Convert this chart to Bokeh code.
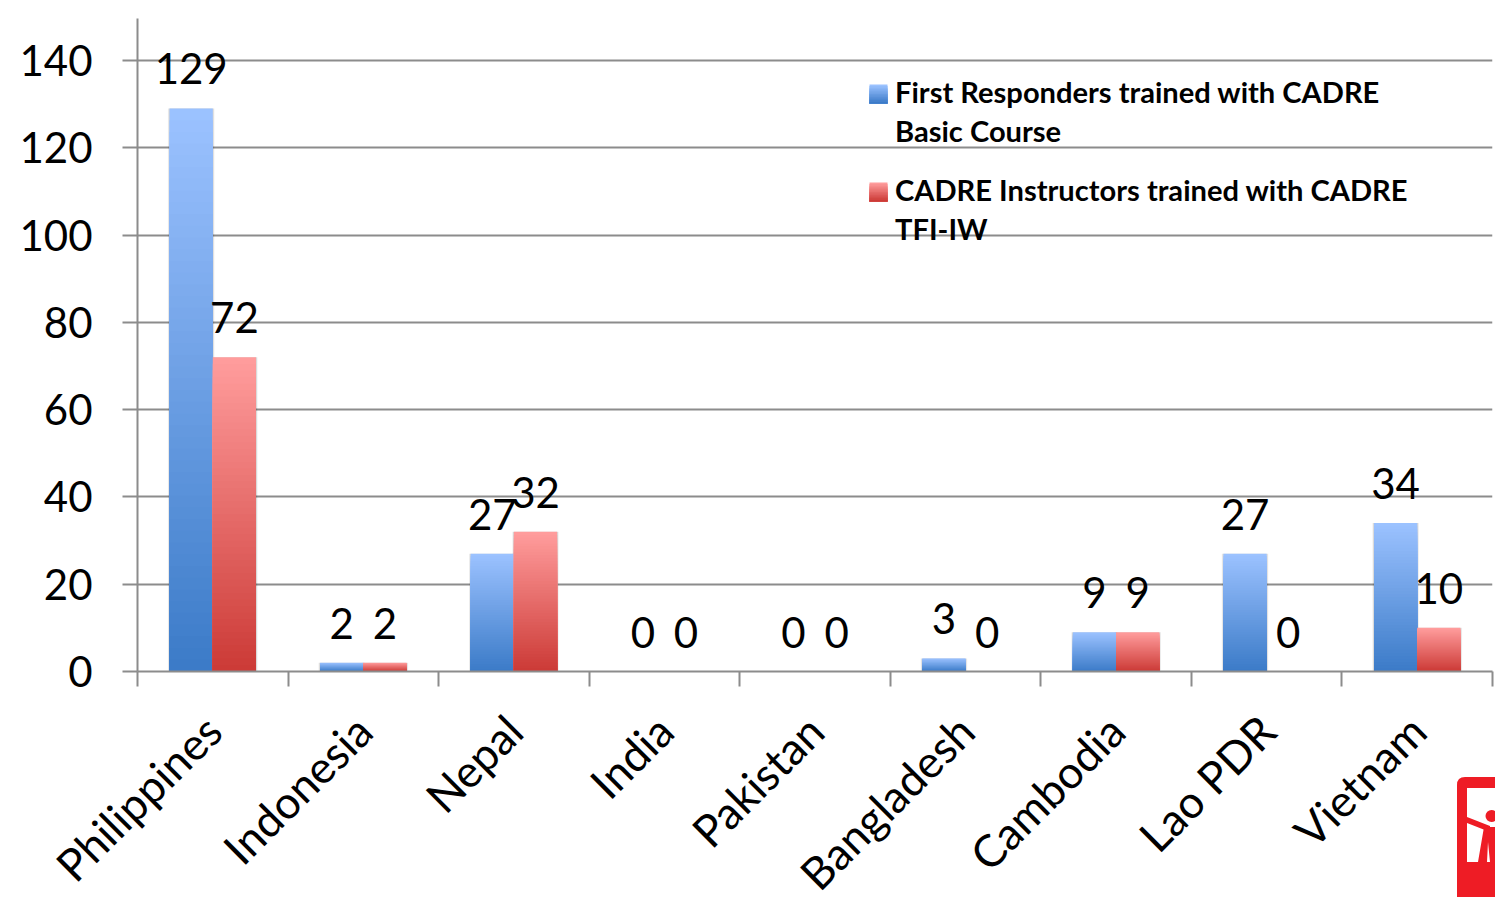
from bokeh.plotting import figure
from bokeh.embed import file_html
from bokeh.resources import INLINE
from bokeh.core.properties import value
from bokeh.models import (ColumnDataSource, Range1d, FixedTicker, Label, BoxAnnotation,
                          LinearAxis, Grid)
import math

categories = ["Philippines", "Indonesia", "Nepal", "India", "Pakistan", "Bangladesh", "Cambodia", "Lao PDR", "Vietnam"]
first_responders = [129, 2, 27, 0, 0, 3, 9, 27, 34]
instructors = [72, 2, 32, 0, 0, 0, 9, 0, 10]
y_ticks = [0, 20, 40, 60, 80, 100, 120, 140]
legend_first = ["First Responders trained with CADRE", "Basic Course"]
legend_second = ["CADRE Instructors trained with CADRE", "TFI-IW"]

BLUE = ((155, 194, 255), (60, 123, 200))
RED = ((255, 156, 156), (204, 59, 55))
FONT = "Lato"
GRID = "#8c8c8c"
BANDS = 48
FRAME_LEFT = 138
FRAME_BOTTOM = 670


def mix(pair, t):
    a, b = pair
    return "#%02x%02x%02x" % tuple(round(a[i] + (b[i] - a[i]) * t) for i in range(3))


def sx(px):
    return px - FRAME_LEFT


def sy(py):
    return FRAME_BOTTOM - py


p = figure(width=1495, height=897, output_backend="svg", toolbar_location=None,
           x_range=Range1d(0, 9), y_range=Range1d(0, 149.6),
           min_border_left=137, min_border_right=3, min_border_top=18, min_border_bottom=226,
           x_axis_type=None, y_axis_type=None, outline_line_color=None, background_fill_color="white")
p.frame_width = 1355
p.frame_height = 653

centres = [i + 0.5 for i in range(len(categories))]
xaxis = LinearAxis(ticker=FixedTicker(ticks=centres, minor_ticks=list(range(len(categories) + 1))),
                   major_label_overrides={c: n for c, n in zip(centres, categories)})
xaxis.major_tick_line_color = None
xaxis.minor_tick_in = 0
xaxis.minor_tick_out = 15
xaxis.minor_tick_line_color = GRID
xaxis.minor_tick_line_width = 2
xaxis.axis_line_color = GRID
xaxis.axis_line_width = 2
xaxis.major_label_orientation = math.pi / 4
xaxis.major_label_standoff = 36
xaxis.major_label_text_font = FONT
xaxis.major_label_text_font_size = "44.5px"
xaxis.major_label_text_color = "black"
p.add_layout(xaxis, "below")

yaxis = LinearAxis(ticker=FixedTicker(ticks=y_ticks))
yaxis.major_tick_in = 0
yaxis.major_tick_out = 15
yaxis.major_tick_line_color = GRID
yaxis.major_tick_line_width = 2
yaxis.minor_tick_line_color = None
yaxis.axis_line_color = GRID
yaxis.axis_line_width = 2
yaxis.major_label_standoff = 30
yaxis.major_label_text_font = FONT
yaxis.major_label_text_font_size = "42px"
yaxis.major_label_text_color = "black"
p.add_layout(yaxis, "left")

p.add_layout(Grid(dimension=1, ticker=FixedTicker(ticks=y_ticks), grid_line_color=GRID, grid_line_width=2))

BAR = 0.287
series = [(first_responders, -BAR / 2, BLUE), (instructors, BAR / 2, RED)]

# soft shadow round the bars
for vals, shift, _ in series:
    xs = [c + shift for c in centres]
    for extra, alpha in ((0.022, 0.06), (0.012, 0.10)):
        p.vbar(x=[x for x, v in zip(xs, vals) if v > 0], top=[v for v in vals if v > 0], bottom=0,
               width=BAR + extra, fill_color="black", fill_alpha=alpha, line_color=None)

# vertical gradient: nested bars painted from the tallest band to the shortest
for vals, shift, pair in series:
    xs = [c + shift for c in centres]
    for k in range(BANDS):
        f = 1 - k / BANDS
        p.vbar(x=xs, top=[v * f for v in vals], bottom=0, width=BAR, line_color=None,
               fill_color=mix(pair, k / (BANDS - 1)))

for vals, shift, _ in series:
    src = ColumnDataSource(dict(x=[c + shift for c in centres], y=vals, t=[str(v) for v in vals]))
    p.text(x="x", y="y", text="t", source=src, text_align="center", text_baseline="alphabetic",
           y_offset=-39.5, text_font=value(FONT), text_font_size="42px", text_color="black")


def box(l, r, t, b, color):
    p.add_layout(BoxAnnotation(left=sx(l), right=sx(r), top=sy(t), bottom=sy(b),
                               left_units="screen", right_units="screen",
                               top_units="screen", bottom_units="screen", fill_color=color, fill_alpha=1,
                               line_color=None, level="overlay"))


# legend
for lines, top, pair in ((legend_first, 83, BLUE), (legend_second, 181, RED)):
    steps = 12
    for k in range(steps):
        box(870, 888, top + 19 * k / steps, top + 19, mix(pair, k / (steps - 1)))
    for i, line in enumerate(lines):
        p.add_layout(Label(x=sx(895.5), y=sy(top + 7 + 39 * i), x_units="screen", y_units="screen",
                           text=line, text_font=FONT, text_font_style="bold",
                           text_font_size="29.1px", text_color="black", text_baseline="middle"))

# logo in the page corner: a decoration with no data, laid over the chart
LOGO = (
    '<svg xmlns="http://www.w3.org/2000/svg" width="38" height="120" '
    'style="position:fixed;left:1457px;top:777px;z-index:10">'
    '<path d="M0 8 Q0 0 8 0 H38 V120 H0 Z" fill="#ee1c25"/>'
    '<rect x="10" y="11" width="28" height="74" fill="white"/>'
    '<polygon points="10,40 33,49 33,55 10,46" fill="#ee1c25"/>'
    '<polygon points="27,50 38,50 38,85 33,85 31,65 30,85 21,85" fill="#ee1c25"/>'
    '<circle cx="34.5" cy="39" r="6" fill="#ee1c25"/>'
    '</svg>'
)

html = file_html(p, INLINE)
html = html.replace("<head>", "<head><style>html,body{margin:0;overflow:hidden}</style>", 1)
html = html.replace("</body>", LOGO + "</body>", 1)
open("out.html", "w").write(html)
